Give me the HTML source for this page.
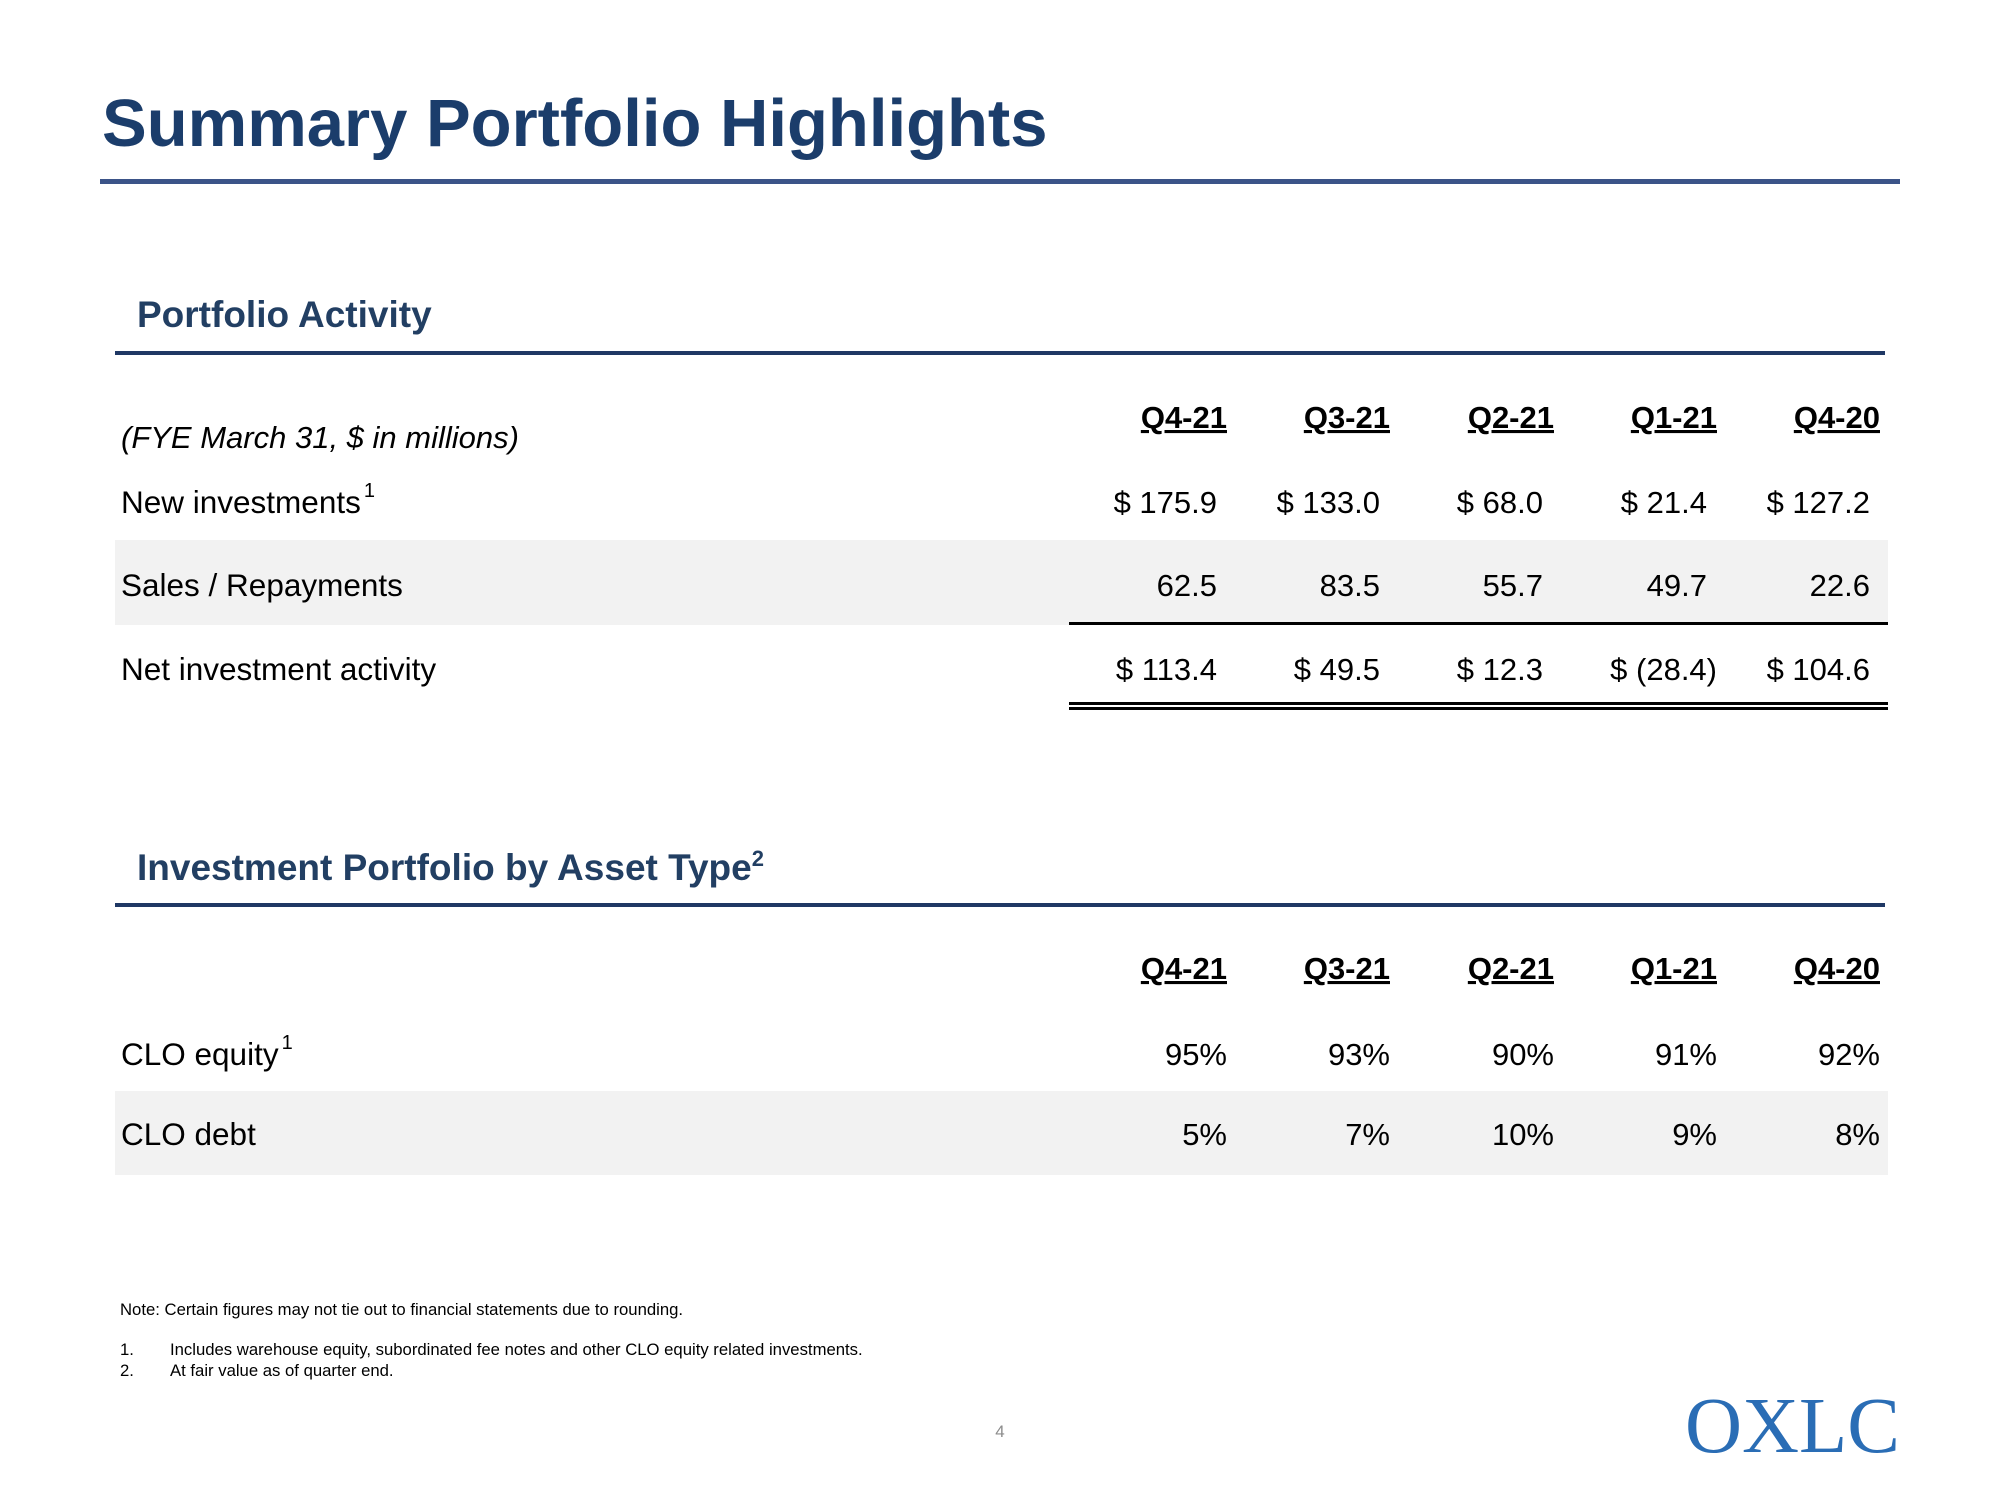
<!DOCTYPE html>
<html><head><meta charset="utf-8"><style>
html,body{margin:0;padding:0;background:#fff;}
svg{display:block;font-family:"Liberation Sans",Arial,sans-serif;}
</style></head><body>
<svg id="page" width="2000" height="1500" viewBox="0 0 2000 1500">
<text x="102" y="146" font-size="67" font-weight="bold" fill="#1b3d6b">Summary Portfolio Highlights</text>
<rect x="100" y="179" width="1800" height="5" fill="#3b5488"/>
<text x="137" y="327" font-size="37" font-weight="bold" fill="#223f63">Portfolio Activity</text>
<rect x="115" y="351" width="1770" height="4" fill="#1f3864"/>
<text x="121" y="448" font-size="31" font-style="italic" fill="#000">(FYE March 31, $ in millions)</text>
<rect x="115" y="540" width="1773" height="85" fill="#f2f2f2"/>
<rect x="1069" y="622" width="819" height="3" fill="#000"/>
<rect x="1069" y="702" width="819" height="3" fill="#000"/>
<rect x="1069" y="707" width="819" height="3" fill="#000"/>
<text x="137" y="880" font-size="37" font-weight="bold" fill="#223f63">Investment Portfolio by Asset Type<tspan font-size="22" dy="-14">2</tspan></text>
<rect x="115" y="903" width="1770" height="4" fill="#1f3864"/>
<rect x="115" y="1091" width="1773" height="84" fill="#f2f2f2"/>
<g id="t1"></g>
<g id="t2"></g>
<text x="120" y="1315" font-size="16.7" fill="#000">Note: Certain figures may not tie out to financial statements due to rounding.</text>
<text x="120" y="1355" font-size="16.7" fill="#000">1.</text>
<text x="170" y="1355" font-size="16.7" fill="#000">Includes warehouse equity, subordinated fee notes and other CLO equity related investments.</text>
<text x="120" y="1376" font-size="16.7" fill="#000">2.</text>
<text x="170" y="1376" font-size="16.7" fill="#000">At fair value as of quarter end.</text>
<text x="1000" y="1437" font-size="17" fill="#8c8c8c" text-anchor="middle">4</text>
<text x="1900" y="1452" font-size="79" fill="#2a6db5" text-anchor="end" font-family="Liberation Serif, serif">OXLC</text>
</svg>
<script>
const quarters = ["Q4-21","Q3-21","Q2-21","Q1-21","Q4-20"];
const newInvestments = ["$ 175.9","$ 133.0","$ 68.0","$ 21.4","$ 127.2"];
const salesRepayments = ["62.5","83.5","55.7","49.7","22.6"];
const netActivity = ["$ 113.4","$ 49.5","$ 12.3","$ (28.4)","$ 104.6"];
const cloEquity = ["95%","93%","90%","91%","92%"];
const cloDebt = ["5%","7%","10%","9%","8%"];

const NS = "http://www.w3.org/2000/svg";
const headerRight = [1227,1390,1554,1717,1880];
const valueRight = [1217,1380,1543,1707,1870];
function txt(g, x, y, s, opts) {
  const t = document.createElementNS(NS, "text");
  t.setAttribute("x", x); t.setAttribute("y", y);
  t.setAttribute("font-size", opts.size || 31);
  if (opts.anchor) t.setAttribute("text-anchor", opts.anchor);
  if (opts.bold) t.setAttribute("font-weight", "bold");
  if (opts.underline) t.setAttribute("text-decoration", "underline");
  t.setAttribute("fill", "#000");
  t.textContent = s;
  g.appendChild(t);
  return t;
}
const t1 = document.getElementById("t1");
const t2 = document.getElementById("t2");
quarters.forEach((q, i) => {
  const h = txt(t1, headerRight[i], 428, q, {anchor:"end", bold:true, underline:true});
  
  
  const h2 = txt(t2, headerRight[i], 979, q, {anchor:"end", bold:true, underline:true});
  
  
});
const rows1 = [["New investments", newInvestments, 513, true],["Sales / Repayments", salesRepayments, 596, false],["Net investment activity", netActivity, 680, false]];
rows1.forEach((r, ri) => {
  const l = txt(t1, 121, r[2], r[0], {size:31.5});
  
  
  if (r[3]) { const s = document.createElementNS(NS, "tspan"); s.setAttribute("font-size","20"); s.setAttribute("dy","-16"); s.setAttribute("dx","3"); s.textContent="1"; l.appendChild(s); }
  r[1].forEach((v, i) => {
    const x = v.endsWith(")") ? valueRight[i] + 10 : valueRight[i];
    const c = txt(t1, x, r[2], v, {anchor:"end"});
    
    
  });
});
const rows2 = [["CLO equity", cloEquity, 1065, true],["CLO debt", cloDebt, 1145, false]];
rows2.forEach((r, ri) => {
  const l = txt(t2, 121, r[2], r[0], {size:31.5});
  
  
  if (r[3]) { const s = document.createElementNS(NS, "tspan"); s.setAttribute("font-size","20"); s.setAttribute("dy","-16"); s.setAttribute("dx","3"); s.textContent="1"; l.appendChild(s); }
  r[1].forEach((v, i) => {
    const c = txt(t2, headerRight[i], r[2], v, {anchor:"end"});
    
    
  });
});
</script>
</body></html>
